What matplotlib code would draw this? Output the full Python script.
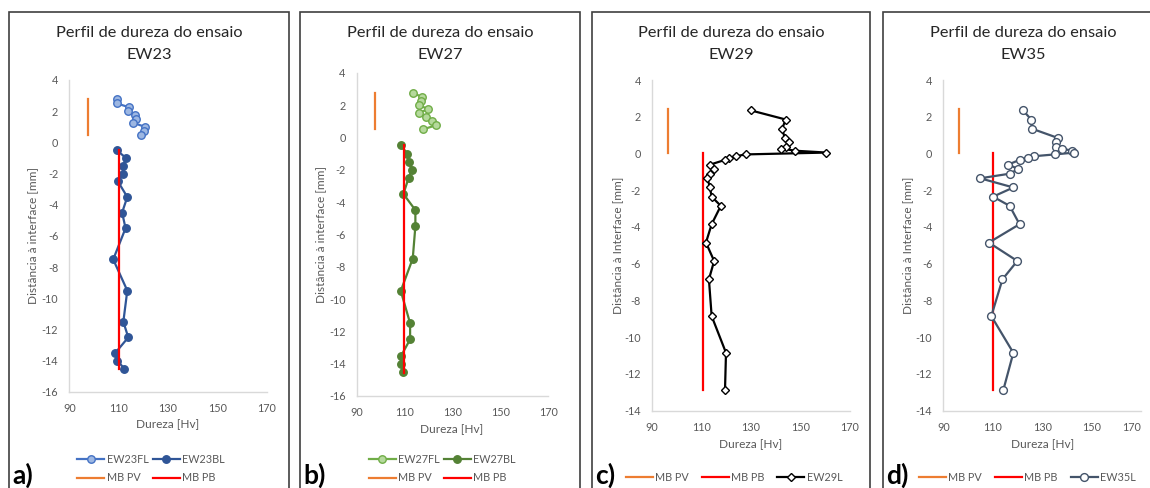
import matplotlib
matplotlib.use("Agg")
import matplotlib.pyplot as plt
from matplotlib.patches import Rectangle

plt.rcParams['font.family'] = ['Lato', 'DejaVu Sans']
plt.rcParams['axes.unicode_minus'] = False

# ---------------- data ----------------
# Panel a) EW23
ew23fl_y = [2.75, 2.5, 2.25, 2.0, 1.75, 1.5, 1.25, 1.0, 0.75, 0.5]
ew23fl_x = [109.2, 109.2, 114.3, 113.8, 116.5, 117.0, 115.9, 120.7, 120.3, 119.2]
ew23bl_y = [-0.5, -1.0, -1.5, -2.0, -2.5, -3.5, -4.5, -5.5, -7.5, -9.5, -11.5, -12.5, -13.5, -14.0, -14.5]
ew23bl_x = [109.2, 113.0, 111.9, 111.9, 109.7, 113.5, 111.4, 112.8, 107.8, 113.5, 111.9, 113.9, 108.6, 109.5, 112.3]
ew23_pv_x = [97.5, 97.5]
ew23_pv_y = [2.75, 0.5]
ew23_pb_x = [110.3, 110.3]
ew23_pb_y = [-0.5, -14.5]

# Panel b) EW27
ew27fl_y = [2.75, 2.5, 2.25, 2.0, 1.75, 1.5, 1.25, 1.0, 0.75, 0.5]
ew27fl_x = [113.4, 117.3, 117.0, 115.9, 119.8, 115.9, 118.9, 121.3, 123.2, 117.8]
ew27bl_y = [-0.5, -1.0, -1.5, -2.0, -2.5, -3.5, -4.5, -5.5, -7.5, -9.5, -11.5, -12.5, -13.5, -14.0, -14.5]
ew27bl_x = [108.4, 111.1, 111.7, 113.1, 111.7, 109.5, 114.5, 114.5, 113.4, 108.4, 112.3, 112.3, 108.6, 108.4, 109.5]
ew27_pv_x = [97.6, 97.6]
ew27_pv_y = [2.75, 0.5]
ew27_pb_x = [109.8, 109.8]
ew27_pb_y = [-0.5, -14.6]

# Panel c) EW29
ew29_y = [2.35, 1.85, 1.35, 0.85, 0.6, 0.35, 0.27, 0.15, 0.05, -0.05, -0.15, -0.25, -0.35, -0.6,
          -0.85, -1.1, -1.35, -1.85, -2.35, -2.85, -3.85, -4.85, -5.85, -6.85, -8.85, -10.85, -12.85]
ew29_x = [129.8, 144.0, 142.6, 143.6, 145.5, 144.3, 142.1, 147.9, 160.5, 127.9, 123.8, 121.3, 119.5, 113.6,
          114.9, 113.4, 112.4, 113.4, 114.1, 117.8, 114.1, 111.8, 115.1, 113.0, 114.1, 119.9, 119.5]
ew29_pv_x = [96.6, 96.6]
ew29_pv_y = [2.4, 0.0]
ew29_pb_x = [110.5, 110.5]
ew29_pb_y = [0.0, -12.9]

# Panel d) EW35
ew35_y = [2.35, 1.85, 1.35, 0.85, 0.6, 0.35, 0.27, 0.15, 0.05, -0.05, -0.15, -0.25, -0.35, -0.6,
          -0.85, -1.1, -1.35, -1.85, -2.35, -2.85, -3.85, -4.85, -5.85, -6.85, -8.85, -10.85, -12.85]
ew35_x = [122.2, 125.5, 125.8, 136.2, 135.5, 135.6, 137.8, 142.1, 143.0, 135.1, 126.5, 124.1, 120.8, 116.3,
          120.3, 116.8, 104.9, 118.3, 110.1, 116.8, 120.8, 108.4, 119.9, 113.9, 109.4, 118.3, 114.3]
ew35_pv_x = [96.3, 96.3]
ew35_pv_y = [2.4, 0.0]
ew35_pb_x = [110.1, 110.1]
ew35_pb_y = [0.0, -12.9]

x_ticks = [90, 110, 130, 150, 170]
y_ticks_ab = [-16, -14, -12, -10, -8, -6, -4, -2, 0, 2, 4]
y_ticks_cd = [-14, -12, -10, -8, -6, -4, -2, 0, 2, 4]

titles = ["EW23", "EW27", "EW29", "EW35"]
ylabels = ["Distância à interface [mm]", "Distância à interface [mm]",
           "Distância à Interface [mm]", "Distância à Interface [mm]"]
xlabel = "Dureza [Hv]"
title_line1 = "Perfil de dureza do ensaio"
panel_tags = ["a)", "b)", "c)", "d)"]

# ---------------- figure ----------------
W, H = 1150, 488
fig = plt.figure(figsize=(W / 100, H / 100), dpi=100)

def fx(px):
    return px / W

def fy(py):
    return 1 - py / H

GRAY = '#595959'
AXC = '#D9D9D9'
ORANGE = '#ED7D31'
RED = '#FF0000'

# panel frames  (left, right)
frames = [(9, 288.5), (300, 580), (592, 869.5), (883, 1160)]
for l, r in frames:
    fig.patches.append(Rectangle((fx(l), fy(500)), fx(r - l), (500 - 12) / H,
                                 transform=fig.transFigure, fill=False,
                                 edgecolor='#404040', lw=1.2, zorder=0))

# axes rectangles in pixels: x0, x1, ytop, ybottom
rects = [(69.3, 266.7, 80, 392), (356.7, 548.3, 72.7, 396),
         (652, 850, 80, 410.7), (943.3, 1141.3, 80, 410.7)]
title_cx = [149, 440.7, 731.7, 1023]
ylab_x = [33, 321, 617.7, 908]
xlab_pos = [(168, 425), (452, 430), (750.7, 445), (1042.7, 445)]

axes = []
for i, (x0, x1, yt, yb) in enumerate(rects):
    ax = fig.add_axes([fx(x0), fy(yb), fx(x1 - x0), (yb - yt) / H])
    ax.set_xlim(90, 170)
    if i < 2:
        ax.set_ylim(-16, 4)
        ax.set_yticks(y_ticks_ab)
    else:
        ax.set_ylim(-14, 4)
        ax.set_yticks(y_ticks_cd)
    ax.set_xticks(x_ticks)
    for s in ['top', 'right']:
        ax.spines[s].set_visible(False)
    for s in ['left', 'bottom']:
        ax.spines[s].set_color(AXC)
        ax.spines[s].set_linewidth(1.0)
    ax.tick_params(length=0, labelsize=7.8, labelcolor=GRAY, pad=8)
    ax.patch.set_alpha(0)
    # titles
    fig.text(fx(title_cx[i]), fy(33), title_line1, ha='center', va='center',
             fontsize=11.8, color='#262626')
    fig.text(fx(title_cx[i]), fy(55), titles[i], ha='center', va='center',
             fontsize=11.8, color='#262626')
    yc = (yt + yb) / 2
    fig.text(fx(ylab_x[i]), fy(yc), ylabels[i], rotation=90, ha='center', va='center',
             fontsize=8.6, color=GRAY)
    fig.text(fx(xlab_pos[i][0]), fy(xlab_pos[i][1]), xlabel, ha='center', va='center',
             fontsize=8.6, color=GRAY)
    fig.text(fx(frames[i][0] + 3), fy(487.5), panel_tags[i], ha='left', va='bottom',
             fontsize=19, fontweight='bold', color='black')
    axes.append(ax)

LW = 1.6
LEG = dict(frameon=False, fontsize=7.8, handlelength=2.5, handletextpad=0.2,
           labelcolor=GRAY, loc='center')

# ----- a) -----
ax = axes[0]
l_pv, = ax.plot(ew23_pv_x, ew23_pv_y, color=ORANGE, lw=LW)
l_pb, = ax.plot(ew23_pb_x, ew23_pb_y, color=RED, lw=LW, zorder=4)
l_fl, = ax.plot(ew23fl_x, ew23fl_y, color='#4472C4', lw=LW, marker='o', ms=5.4,
                mfc='#9DB7E2', mec='#4472C4', mew=1.0, zorder=3)
l_bl, = ax.plot(ew23bl_x, ew23bl_y, color='#2F5597', lw=LW, marker='o', ms=5.4,
                mfc='#2F5597', mec='#2F5597', zorder=3)
fig.legend([l_fl, l_pv, l_bl, l_pb], ['EW23FL', 'MB PV', 'EW23BL', 'MB PB'],
           bbox_to_anchor=(fx(151), fy(468.5)), ncol=2, columnspacing=0.4,
           labelspacing=0.7, **LEG)

# ----- b) -----
ax = axes[1]
l_pv, = ax.plot(ew27_pv_x, ew27_pv_y, color=ORANGE, lw=LW)
l_pb, = ax.plot(ew27_pb_x, ew27_pb_y, color=RED, lw=LW, zorder=4)
l_fl, = ax.plot(ew27fl_x, ew27fl_y, color='#70AD47', lw=LW, marker='o', ms=5.4,
                mfc='#B5D99C', mec='#70AD47', mew=1.0, zorder=3)
l_bl, = ax.plot(ew27bl_x, ew27bl_y, color='#548235', lw=LW, marker='o', ms=5.4,
                mfc='#548235', mec='#548235', zorder=3)
fig.legend([l_fl, l_pv, l_bl, l_pb], ['EW27FL', 'MB PV', 'EW27BL', 'MB PB'],
           bbox_to_anchor=(fx(442), fy(468.5)), ncol=2, columnspacing=0.4,
           labelspacing=0.7, **LEG)

# ----- c) -----
ax = axes[2]
l_pv, = ax.plot(ew29_pv_x, ew29_pv_y, color=ORANGE, lw=LW)
l_pb, = ax.plot(ew29_pb_x, ew29_pb_y, color=RED, lw=LW)
l_29, = ax.plot(ew29_x, ew29_y, color='black', lw=LW, marker='D', ms=4.3,
                mfc='white', mec='black', mew=1.0, zorder=3)
fig.legend([l_pv, l_pb, l_29], ['MB PV', 'MB PB', 'EW29L'],
           bbox_to_anchor=(fx(734), fy(477.3)), ncol=3, columnspacing=1.2, **LEG)

# ----- d) -----
ax = axes[3]
l_pv, = ax.plot(ew35_pv_x, ew35_pv_y, color=ORANGE, lw=LW)
l_pb, = ax.plot(ew35_pb_x, ew35_pb_y, color=RED, lw=LW)
l_35, = ax.plot(ew35_x, ew35_y, color='#44546A', lw=LW, marker='o', ms=5.6,
                mfc='white', mec='#44546A', mew=1.0, zorder=3)
fig.legend([l_pv, l_pb, l_35], ['MB PV', 'MB PB', 'EW35L'],
           bbox_to_anchor=(fx(1027.5), fy(477.3)), ncol=3, columnspacing=1.2, **LEG)
lbls = axes[3].get_xticklabels()
lbls[-1].set_ha('right')

fig.savefig('out.png', dpi=100, facecolor='white')
